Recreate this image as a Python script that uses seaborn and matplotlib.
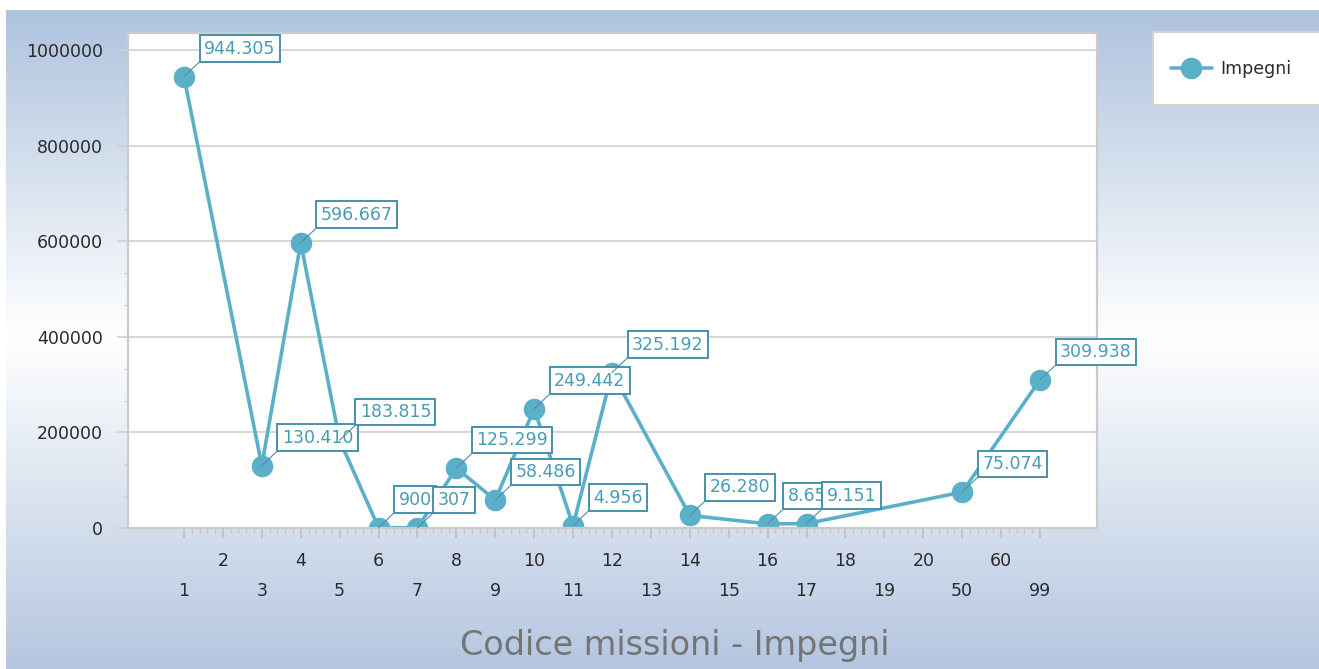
import numpy as np
import matplotlib
matplotlib.use("Agg")
import matplotlib.pyplot as plt
import matplotlib.ticker as mticker
from matplotlib.patches import Rectangle
from matplotlib.lines import Line2D
import seaborn as sns

# ---- data ----
categories = ["1", "2", "3", "4", "5", "6", "7", "8", "9", "10", "11", "12", "13",
              "14", "15", "16", "17", "18", "19", "20", "50", "60", "99"]
codes = ["1", "3", "4", "5", "6", "7", "8", "9", "10", "11", "12", "14", "16", "17", "50", "99"]
impegni = [944305, 130410, 596667, 183815, 900, 307, 125299, 58486, 249442, 4956,
           325192, 26280, 8650, 9151, 75074, 309938]
y_ticks = [0, 200000, 400000, 600000, 800000, 1000000]
series_name = "Impegni"
title = "Codice missioni - Impegni"

W, H = 1319, 669
DPI = 100
sns.set_theme(style="white")
plt.rcParams["font.family"] = ["DejaVu Sans"]

fig = plt.figure(figsize=(W / DPI, H / DPI), dpi=DPI)
fig.patch.set_facecolor("white")

# background gradient
yy = np.arange(H, dtype=float)
top_c = np.array([174, 195, 222]) / 255.0
bot_c = np.array([180, 198, 224]) / 255.0
white = np.ones(3)
mid = 336.0
col = np.zeros((H, 3))
for i, y in enumerate(yy):
    if y <= mid:
        t = np.clip((y - 10) / (mid - 10), 0, 1)
        col[i] = top_c * (1 - t) + white * t
    else:
        t = (y - mid) / (H - 1 - mid)
        col[i] = white * (1 - t) + bot_c * t
bg = np.repeat(col[:, None, :], W, axis=1)
bg[:10, :, :] = 1.0
bg[:, :6, :] = 1.0
fig.figimage(bg, xo=0, yo=0, origin="upper", zorder=-10)

# axes placement
L, R, T, B = 128, 1097, 33, 528
ax = fig.add_axes([L / W, 1 - B / H, (R - L) / W, (B - T) / H])
ax.set_facecolor("white")

xpos = [categories.index(c) for c in codes]
line_c = "#5BB0C9"
sns.lineplot(x=xpos, y=impegni, ax=ax, color=line_c, lw=2.6, marker="o",
             markersize=15.5, markeredgewidth=0, markerfacecolor=line_c,
             label=series_name, legend=False, sort=True)

x0_px, x22_px = 184, 1040
unit = (x22_px - x0_px) / 22.0
ax.set_xlim(-(x0_px - L) / unit, 22 + (R - x22_px) / unit)
ax.set_ylim(0, 1e6 * (B - T) / (B - 50))

# y axis
ax.set_yticks(y_ticks)
ax.yaxis.set_major_formatter(mticker.FuncFormatter(lambda v, p: f"{int(v)}"))
ax.yaxis.set_minor_locator(mticker.AutoMinorLocator(3))
ax.grid(axis="y", which="major", color="#d4d4d4", lw=1.3)
ax.grid(axis="x", visible=False)
ax.tick_params(axis="y", which="major", length=8, width=1.2, color="#d0d0d0",
               pad=10, labelsize=12.5, labelcolor="#2a2a2a", left=True)
ax.tick_params(axis="y", which="minor", length=3, width=1, color="#c8c8c8", left=True)

# x axis: two rows of labels
pos = list(range(len(categories)))
ax.set_xticks(pos)
ax.set_xticklabels([c if i % 2 == 1 else "" for i, c in enumerate(categories)])
minor = [p for p in np.arange(0, 22.001, 0.2) if abs(p - round(p)) > 1e-6]
ax.xaxis.set_minor_locator(mticker.FixedLocator(minor))
ax.tick_params(axis="x", which="major", length=7, width=1.2, color="#bdbdbd",
               pad=10, labelsize=12.5, labelcolor="#2a2a2a", bottom=True)
ax.tick_params(axis="x", which="minor", length=3.5, width=1, color="#c4c4c4", bottom=True)

sec = ax.secondary_xaxis("bottom")
sec.set_xticks(pos[0::2])
sec.set_xticklabels(categories[0::2])
sec.tick_params(axis="x", length=0, pad=39, labelsize=12.5, labelcolor="#2a2a2a")
sec.xaxis.set_minor_locator(mticker.NullLocator())
for s in sec.spines.values():
    s.set_visible(False)

for s in ax.spines.values():
    s.set_visible(True)
    s.set_color("#cbcbcb")
    s.set_linewidth(1.6)

# data labels
txt_c = "#4A9BB5"
edge_c = "#4592AC"
for xp, v in zip(xpos, impegni):
    lab = f"{v:,}".replace(",", ".")
    ax.annotate(lab, xy=(xp, v), xytext=(20, 19), textcoords="offset pixels",
                ha="left", va="bottom", fontsize=12.5, color=txt_c,
                bbox=dict(boxstyle="square,pad=0.25", fc="white", ec=edge_c, lw=1.4),
                arrowprops=dict(arrowstyle="-", color="#4f8da2", lw=0.8,
                                shrinkA=0, shrinkB=0, relpos=(0, 0)),
                annotation_clip=False, zorder=6)

# legend box
fig.patches.append(Rectangle((1153 / W, 1 - 105 / H), (W - 1153 + 10) / W, 73 / H,
                             transform=fig.transFigure, fc="white", ec="#d2d2d2",
                             lw=1.5, zorder=1))
handle = Line2D([], [], color=line_c, lw=2.6, marker="o", markersize=15.5,
                markeredgewidth=0)
fig.legend([handle], [series_name], loc="center left",
           bbox_to_anchor=(1155 / W, 1 - 69 / H), frameon=False,
           fontsize=12.5, handlelength=2.4, handletextpad=0.45,
           labelcolor="#2a2a2a")

fig.text(675 / W, 1 - 655 / H, title, ha="center", va="baseline",
         fontsize=24, color="#747474")

fig.savefig("out.png", dpi=DPI)
